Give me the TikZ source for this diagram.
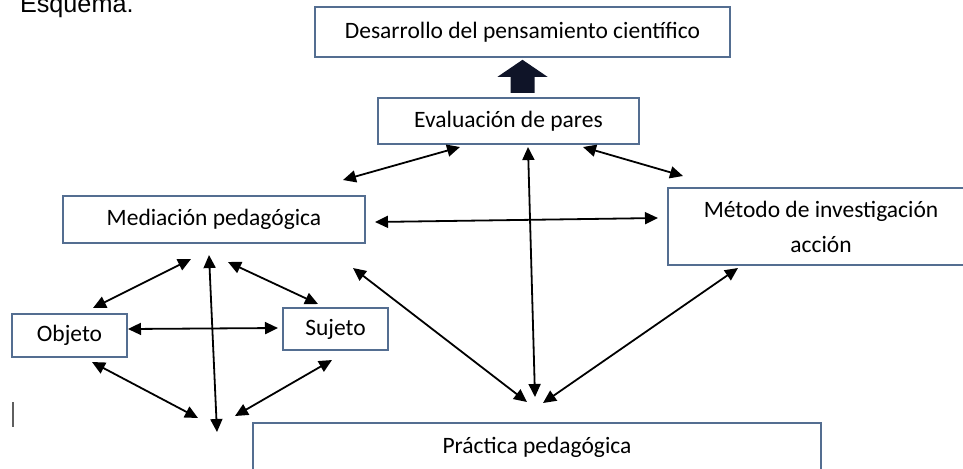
\documentclass[tikz,border=0pt]{standalone}
\usepackage{fontspec}
\setmainfont{Carlito}
\newfontfamily\titlefont{Liberation Sans}
\usetikzlibrary{arrows.meta}
\definecolor{boxBlue}{RGB}{84,110,145}
\definecolor{arrowNavy}{RGB}{15,20,40}
\definecolor{markGray}{RGB}{95,95,95}

\begin{document}
\begin{tikzpicture}[x=0.5pt, y=-0.5pt, font=\fontsize{11.75}{17.5}\selectfont]
		\useasboundingbox (0,0) rectangle (963,468);

		% Title
		\node (esquema) at (13,12) [anchor=base west, font=\titlefont\fontsize{12.6}{15}\selectfont] {Esquema.};

		% Boxes
		\begin{scope}[every node/.style={draw=boxBlue, line width=0.8pt, inner sep=0pt, align=center}]
			\node (desarrollo) at (522.5,32) [minimum width=207.5pt, minimum height=25pt] {Desarrollo del pensamiento científico};
			\node (evaluacion) at (508.5,121) [minimum width=130.5pt, minimum height=23pt] {Evaluación de pares};
			\node (mediacion) at (214,219.5) [minimum width=151pt, minimum height=23.5pt] {Mediación pedagógica};
			\node (metodo) at (821,226.5) [minimum width=153pt, minimum height=38.5pt] {Método de investigación\\acción};
			\node (objeto) at (69.5,335.5) [minimum width=57.5pt, minimum height=21.5pt] {Objeto};
			\node (sujeto) at (335.5,329) [minimum width=52.5pt, minimum height=21pt] {Sujeto};
			\node (practica) at (537,447.5) [minimum width=284pt, minimum height=24.5pt] {Práctica pedagógica};
		\end{scope}

		% Arrow ends
		\coordinate (ev-l1) at (343,180);
		\coordinate (ev-l2) at (460,147);
		\coordinate (ev-r1) at (583,147);
		\coordinate (ev-r2) at (683,176);
		\coordinate (ev-m1) at (528,147);
		\coordinate (pr-m) at (535,397);
		\coordinate (me-h1) at (375,222);
		\coordinate (me-h2) at (658,218);
		\coordinate (me-d1) at (353,268);
		\coordinate (pr-l) at (527,402);
		\coordinate (mt-d1) at (738,268);
		\coordinate (pr-r) at (543,403);
		\coordinate (md-l) at (191,259);
		\coordinate (ob-u) at (93,308);
		\coordinate (md-m) at (209,255);
		\coordinate (bt-m) at (217,432);
		\coordinate (md-r) at (228,262);
		\coordinate (su-u) at (318,304);
		\coordinate (ob-r) at (128,329);
		\coordinate (su-l) at (278,328);
		\coordinate (ob-d) at (92,362);
		\coordinate (bt-l) at (198,418);
		\coordinate (su-d) at (332,360);
		\coordinate (bt-r) at (235,416);
		\coordinate (mark-a) at (13,402);
		\coordinate (mark-b) at (13,427);

		% Fat arrow
		\fill [arrowNavy] ([xshift=-6pt, yshift=-17.5pt]desarrollo.south) -- ([xshift=-6pt, yshift=-9.5pt]desarrollo.south)
			-- ([xshift=-12.5pt, yshift=-9.5pt]desarrollo.south) -- ([yshift=-1pt]desarrollo.south)
			-- ([xshift=12.5pt, yshift=-9.5pt]desarrollo.south) -- ([xshift=6pt, yshift=-9.5pt]desarrollo.south)
			-- ([xshift=6pt, yshift=-17.5pt]desarrollo.south) -- cycle;

		% Arrows
		\begin{scope}[every edge/.style={draw=black, line width=0.9pt}, >={Triangle[length=6.5pt, width=6pt]}]
			\path [<->] (ev-l1) edge (ev-l2);
			\path [<->] (ev-r1) edge (ev-r2);
			\path [<->] (ev-m1) edge (pr-m);
			\path [<->] (me-h1) edge (me-h2);
			\path [<->] (me-d1) edge (pr-l);
			\path [<->] (mt-d1) edge (pr-r);
			\path [<->] (md-l) edge (ob-u);
			\path [<->] (md-m) edge (bt-m);
			\path [<->] (md-r) edge (su-u);
			\path [<->] (ob-r) edge (su-l);
			\path [<->] (ob-d) edge (bt-l);
			\path [<->] (su-d) edge (bt-r);
		\end{scope}

		% Cursor mark
		\draw [markGray, line width=1pt] (mark-a) -- (mark-b);

	\end{tikzpicture}
\end{document}
